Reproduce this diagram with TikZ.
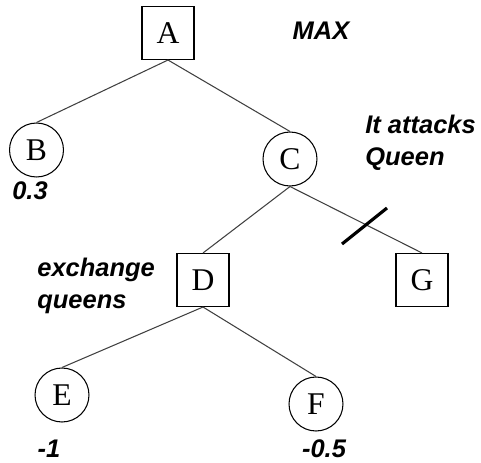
\documentclass[tikz,border=0pt]{standalone}
\usepackage{fontspec}
\setmainfont{Liberation Serif}
\setsansfont{Liberation Sans}
\usetikzlibrary{positioning}
\tikzset{
    treenode/.style = {align=center, inner sep=0pt, text centered, draw=black, line width=0.6pt, font=\fontsize{18}{20}\selectfont},
    max_node/.style = {treenode, rectangle, minimum width=1.04cm, minimum height=1.06cm},
    min_node/.style = {treenode, circle, minimum size=1.08cm},
    note/.style = {align=left, inner sep=0pt, font=\sffamily\bfseries\itshape\fontsize{14.5}{18}\selectfont},
    tree_edge/.style = {draw=black!75, line width=0.6pt},
    cut_mark/.style = {draw=black, line width=1.8pt}
}
\begin{document}
\begin{tikzpicture}
            [x=0.02cm, y=-0.02cm]
            \useasboundingbox (0,0) rectangle (481,463);

            \node [max_node] (A) at (168,33) {A};
            \node [min_node] (B) at (36.5,150) {B};
            \node [min_node] (C) at (290,159) {C};
            \node [max_node] (D) at (203,280) {D};
            \node [max_node] (G) at (422,280) {G};
            \node [min_node] (E) at (62,395) {E};
            \node [min_node] (F) at (316,404) {F};

            \node [note] (max) at (321,31) {MAX};
            \node [note, anchor=west] (attacks) at (365,143) {It attacks\\Queen};
            \node [note, anchor=west] (exchange) at (37,286) {exchange\\queens};
            \node [note] (valB) at (30,191) {0.3};
            \node [note] (valE) at (49,449) {-1};
            \node [note] (valF) at (324,449) {-0.5};

            \draw [tree_edge] (A.south) -- (B.north);
            \draw [tree_edge] (A.south) -- (C.north);
            \draw [tree_edge] (C.south) -- (D.north);
            \draw [tree_edge] (C.south) -- (G.north);
            \draw [tree_edge] (D.south) -- (E.north);
            \draw [tree_edge] (D.south) -- (F.north);

            \coordinate (cut1) at (342,244);
            \coordinate (cut2) at (387,208);
            \draw [cut_mark] (cut1) -- (cut2);
\end{tikzpicture}
\end{document}
